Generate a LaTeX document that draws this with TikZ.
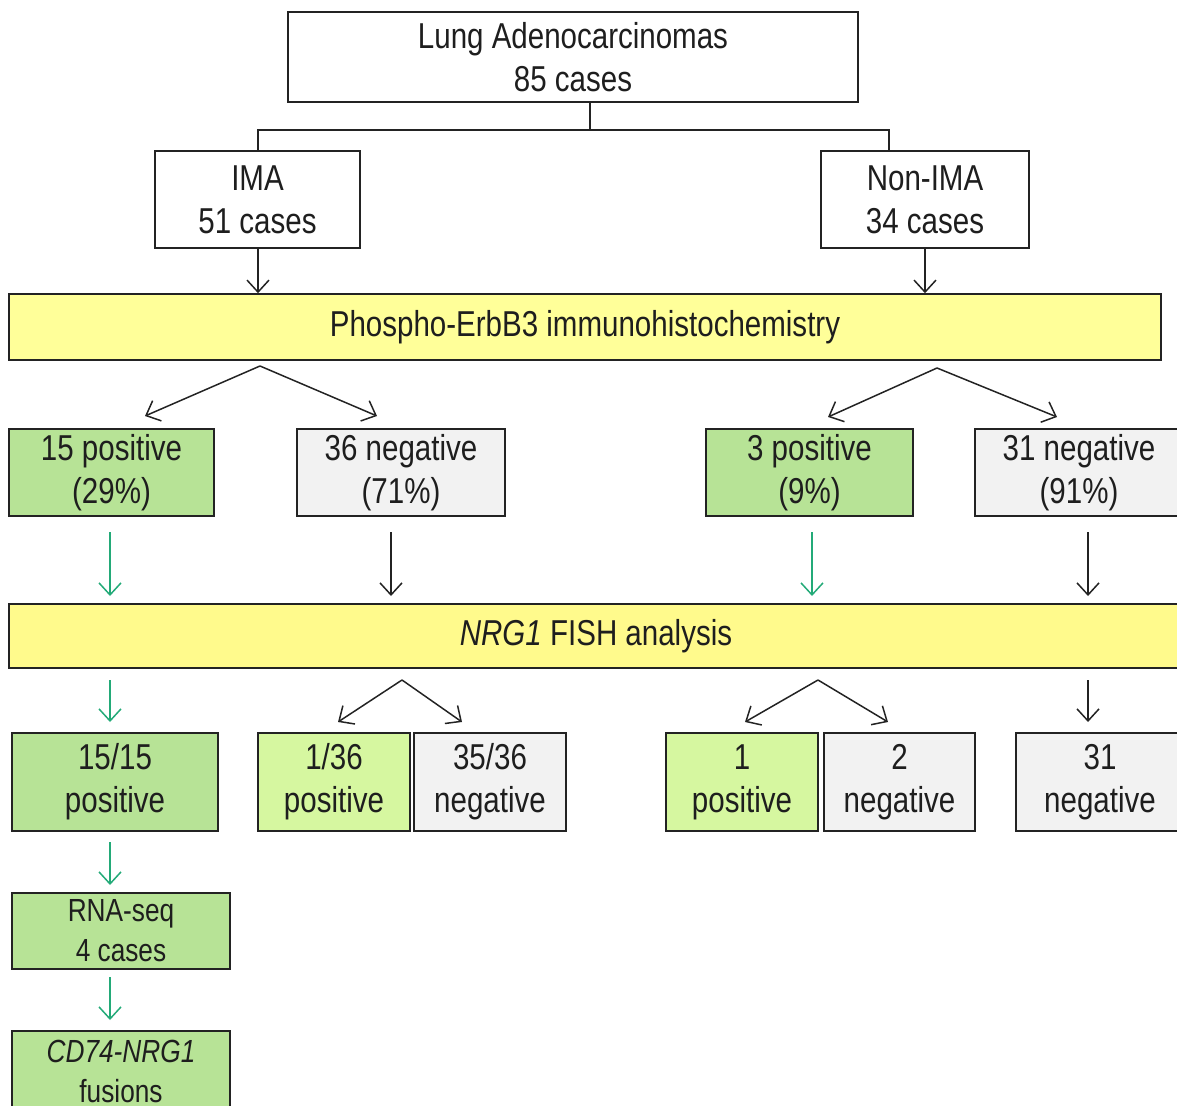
\documentclass[tikz,border=0pt]{standalone}
\usepackage{fontspec}
\setmainfont[FakeStretch=0.82]{Liberation Sans}
\usetikzlibrary{arrows.meta}
\definecolor{bordc}{RGB}{35,35,35}
\definecolor{txtc}{RGB}{30,30,30}
\definecolor{dkgreen}{RGB}{183,227,150}
\definecolor{ltgreen}{RGB}{214,247,160}
\definecolor{greyfill}{RGB}{242,242,242}
\definecolor{yell}{RGB}{255,255,153}
\definecolor{yell2}{RGB}{255,250,140}
\definecolor{arrgreen}{RGB}{35,170,120}
\tikzset{
  box/.style={draw=bordc, line width=1.6pt, inner sep=0pt, align=center, text=txtc,
    font=\fontsize{36}{43}\selectfont, fill=white},
  posbox/.style={box, fill=dkgreen},
  litebox/.style={box, fill=ltgreen},
  negbox/.style={box, fill=greyfill},
  smallbox/.style={box, fill=dkgreen, font=\fontsize{32}{40}\selectfont},
  band/.style={box, fill=yell},
  arr/.style={line width=1.5pt, draw=bordc, -{Straight Barb[length=12pt,width=22pt,line width=1.5pt]}},
  garr/.style={arr, draw=arrgreen},
  conn/.style={line width=1.5pt, draw=bordc}
}
\begin{document}
\begin{tikzpicture}[x=1pt,y=-1pt]
\useasboundingbox (0,0) rectangle (1177,1105);
% boxes
\node[box, minimum width=570pt, minimum height=90pt] (top) at (573,57) {Lung Adenocarcinomas\\85 cases};
\node[box, minimum width=205pt, minimum height=97pt] (ima) at (257.5,199.5) {IMA\\51 cases};
\node[box, minimum width=208pt, minimum height=97pt] (nonima) at (925,199.5) {Non-IMA\\34 cases};
\node[band, minimum width=1152pt, minimum height=66pt] (ihc) at (585,327) {Phospho-ErbB3 immunohistochemistry};
\node[posbox, minimum width=205pt, minimum height=87pt] (pos1) at (111.5,472.5) {15 positive\\(29\%)};
\node[negbox, minimum width=208pt, minimum height=87pt] (neg1) at (401,472.5) {36 negative\\(71\%)};
\node[posbox, minimum width=207pt, minimum height=87pt] (pos2) at (809.5,472.5) {3 positive\\(9\%)};
\node[negbox, minimum width=208pt, minimum height=87pt] (neg2) at (1079,472.5) {31 negative\\(91\%)};
\node[band, fill=yell2, minimum width=1174pt, minimum height=64pt] (fish) at (596,636) {\textit{NRG1} FISH analysis};
\node[posbox, minimum width=206pt, minimum height=98pt] (r1) at (115,782) {15/15\\positive};
\node[litebox, minimum width=152pt, minimum height=98pt] (r2) at (334,782) {1/36\\positive};
\node[negbox, minimum width=152pt, minimum height=98pt] (r3) at (490,782) {35/36\\negative};
\node[litebox, minimum width=152pt, minimum height=98pt] (r4) at (742,782) {1\\positive};
\node[negbox, minimum width=151pt, minimum height=98pt] (r5) at (899.5,782) {2\\negative};
\node[negbox, minimum width=168pt, minimum height=98pt] (r6) at (1100,782) {31\\negative};
\node[smallbox, minimum width=218pt, minimum height=76pt] (rna) at (121,931) {RNA-seq\\4 cases};
\node[smallbox, minimum width=218pt, minimum height=80pt] (fus) at (121,1071) {\textit{CD74-NRG1}\\fusions};
% top tree
\coordinate (j) at (590,130);
\coordinate (jl) at (258,130);
\coordinate (jr) at (889,130);
\draw[conn] (top.south -| j) -- (j);
\draw[conn] (ima.north -| jl) -- (jl) -- (jr) -- (nonima.north -| jr);
\draw[arr] (ima.south -| jl) -- (ihc.north -| jl);
\draw[arr] (nonima.south) -- (ihc.north -| nonima.south);
% split from IHC
\coordinate (a1) at (260,366);
\coordinate (t1) at (145,416);
\coordinate (t2) at (377,416);
\coordinate (a2) at (937,368);
\coordinate (t3) at (828,417);
\coordinate (t4) at (1057,417);
\draw[arr] (a1) -- (t1);
\draw[arr] (a1) -- (t2);
\draw[arr] (a2) -- (t3);
\draw[arr] (a2) -- (t4);
% to FISH
\coordinate (v1) at (110,532); \coordinate (w1) at (110,596);
\coordinate (v2) at (391,532); \coordinate (w2) at (391,596);
\coordinate (v3) at (812,532); \coordinate (w3) at (812,596);
\coordinate (v4) at (1088,532); \coordinate (w4) at (1088,596);
\draw[garr] (v1) -- (w1);
\draw[arr] (v2) -- (w2);
\draw[garr] (v3) -- (w3);
\draw[arr] (v4) -- (w4);
% from FISH
\coordinate (g1) at (110,680); \coordinate (h1) at (110,722);
\draw[garr] (g1) -- (h1);
\coordinate (a3) at (402,680);
\coordinate (t5) at (338,722);
\coordinate (t6) at (462,722);
\draw[arr] (a3) -- (t5);
\draw[arr] (a3) -- (t6);
\coordinate (a4) at (818,680);
\coordinate (t7) at (745,722);
\coordinate (t8) at (888,722);
\draw[arr] (a4) -- (t7);
\draw[arr] (a4) -- (t8);
\coordinate (g2) at (1088,680); \coordinate (h2) at (1088,722);
\draw[arr] (g2) -- (h2);
% lower chain
\coordinate (g3) at (110,842); \coordinate (h3) at (110,885);
\draw[garr] (g3) -- (h3);
\coordinate (g4) at (110,977); \coordinate (h4) at (110,1020);
\draw[garr] (g4) -- (h4);
\end{tikzpicture}
\end{document}
